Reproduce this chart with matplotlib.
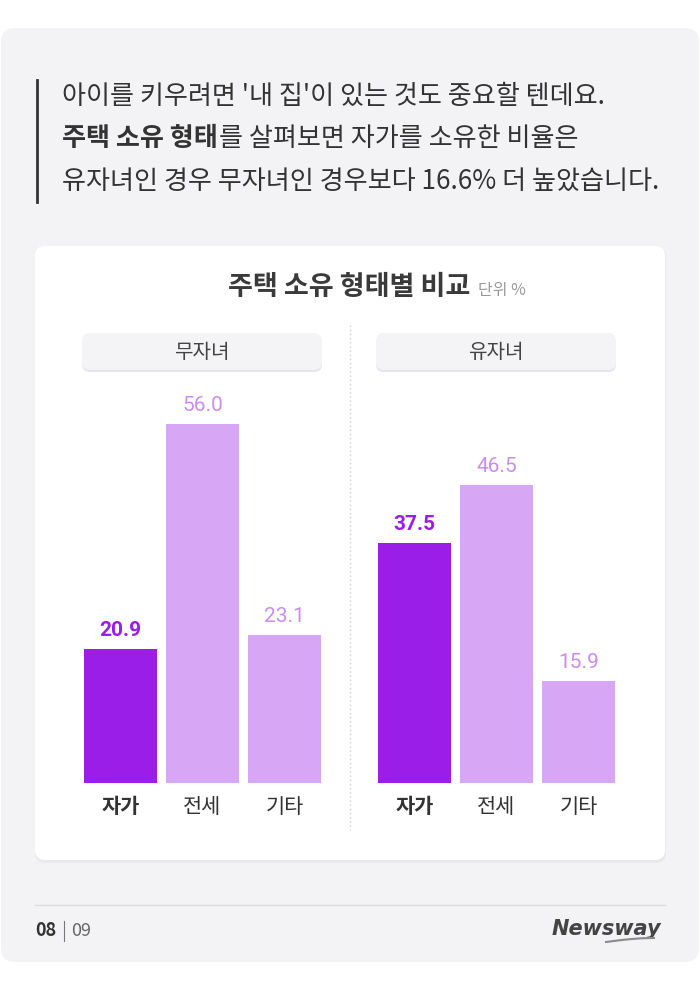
import matplotlib
matplotlib.use('Agg')
from matplotlib import pyplot as plt
from matplotlib.patches import FancyBboxPatch
import numpy as np

plt.rcParams['font.family'] = ['Noto Sans CJK KR', 'DejaVu Sans']

# data
categories = ['자가', '전세', '기타']
groups = ['무자녀', '유자녀']
no_child = [20.9, 56.0, 23.1]
with_child = [37.5, 46.5, 15.9]

title = '주택 소유 형태별 비교'
unit = '단위 %'

W, H = 700, 990
DARK = '#9b1de8'
LIGHT = '#d7a6f5'
LIGHT_TXT = '#c98df0'
TXT = '#333333'

fig = plt.figure(figsize=(W / 100, H / 100), dpi=100)
fig.set_facecolor('white')

# background layer in pixel coordinates (y goes down)
bg = fig.add_axes([0, 0, 1, 1])
bg.set_xlim(0, W)
bg.set_ylim(H, 0)
bg.axis('off')


def rbox(x, y, w, h, r, fc, z=1):
    p = FancyBboxPatch((x + r, y + r), w - 2 * r, h - 2 * r,
                       boxstyle=f'round,pad={r}', fc=fc, ec='none',
                       zorder=z)
    bg.add_patch(p)


rbox(1, 28, 698, 934, 14, '#f3f3f5')
rbox(35, 247, 631, 616, 10, '#e9e9ec', z=2)
rbox(35, 246, 630, 614, 10, 'white', z=3)

# header text
FS = 18.8
bg.plot([37, 37], [80, 202], color='#333333', lw=2, zorder=4)
bg.text(62, 96, "아이를 키우려면 '내 집'이 있는 것도 중요할 텐데요.",
        fontsize=FS, color=TXT, va='center', ha='left', zorder=4)
bold = bg.text(62, 138, '주택 소유 형태', fontsize=FS, color=TXT,
               fontweight='bold', va='center', ha='left', zorder=4)
fig.canvas.draw()
# figure is 700 px wide and bg spans it, so display x == data x
bx = bold.get_window_extent().x1
bg.text(bx + 1, 138, '를 살펴보면 자가를 소유한 비율은',
        fontsize=FS, color=TXT, va='center', ha='left', zorder=4)
bg.text(62, 181, '유자녀인 경우 무자녀인 경우보다 16.6% 더 높았습니다.',
        fontsize=FS, color=TXT, va='center', ha='left', zorder=4)

# chart title
bg.text(470, 287, title, fontsize=19.5, color='#3a3a3a', fontweight='bold',
        va='center', ha='right', zorder=4)
bg.text(478, 290, unit, fontsize=11.5, color='#9a9a9a',
        va='center', ha='left', zorder=4)

# divider
bg.plot([350, 350], [325, 830], color='#cfcfcf', lw=1, ls=(0, (1, 2)),
        zorder=4)

# footer
bg.plot([35, 665], [905, 905], color='#dcdcdf', lw=1, zorder=4)
bg.text(35, 931, '08', fontsize=13, fontweight='bold', color='#333333',
        va='center', ha='left', zorder=4)
bg.plot([64, 64], [921, 941], color='#777777', lw=0.8, zorder=4)
bg.text(71, 931, '09', fontsize=13, color='#666666',
        va='center', ha='left', zorder=4)
bg.text(661, 929, 'Newsway', fontsize=15, fontweight='bold',
        fontstyle='italic', family='Liberation Sans Narrow',
        color='#444444', va='center', ha='right', zorder=4)
bg.plot(np.linspace(606, 654, 20),
        942 - 4 * np.sin(np.linspace(0, np.pi / 2, 20)),
        color='#8a8a8a', lw=1.5, zorder=4)

# bar panels
ymax = 70
px_per = 359 / 56
panel_left = [84, 378]
for gi, (name, vals) in enumerate(zip(groups, [no_child, with_child])):
    x0 = panel_left[gi]
    # pill label
    rbox(x0 - 2, 335, 240, 37, 8, '#e6e6ea', z=4)
    rbox(x0 - 2, 333, 240, 37, 8, '#f4f4f6', z=5)
    bg.text(x0 + 118, 352, name, fontsize=14.5, color='#444444',
            va='center', ha='center', zorder=6)

    h_px = ymax * px_per
    ax = fig.add_axes([x0 / W, 1 - 783 / H, 237 / W, h_px / H])
    ax.set_xlim(-0.445, 2.445)
    ax.set_ylim(0, ymax)
    ax.axis('off')
    x = np.arange(len(categories))
    colors = [DARK, LIGHT, LIGHT]
    ax.bar(x, vals, width=0.89, color=colors)
    for i, v in enumerate(vals):
        ax.text(x[i], v + 2.9, f'{v:.1f}', ha='center', va='center',
                fontsize=15, color=DARK if i == 0 else LIGHT_TXT,
                fontweight='bold' if i == 0 else 'normal',
                family='Roboto')
        ax.text(x[i], -3.7, categories[i], ha='center', va='center',
                fontsize=15, color=TXT,
                fontweight='bold' if i == 0 else 'normal', clip_on=False)

fig.savefig('out.png', dpi=100, facecolor='white')
